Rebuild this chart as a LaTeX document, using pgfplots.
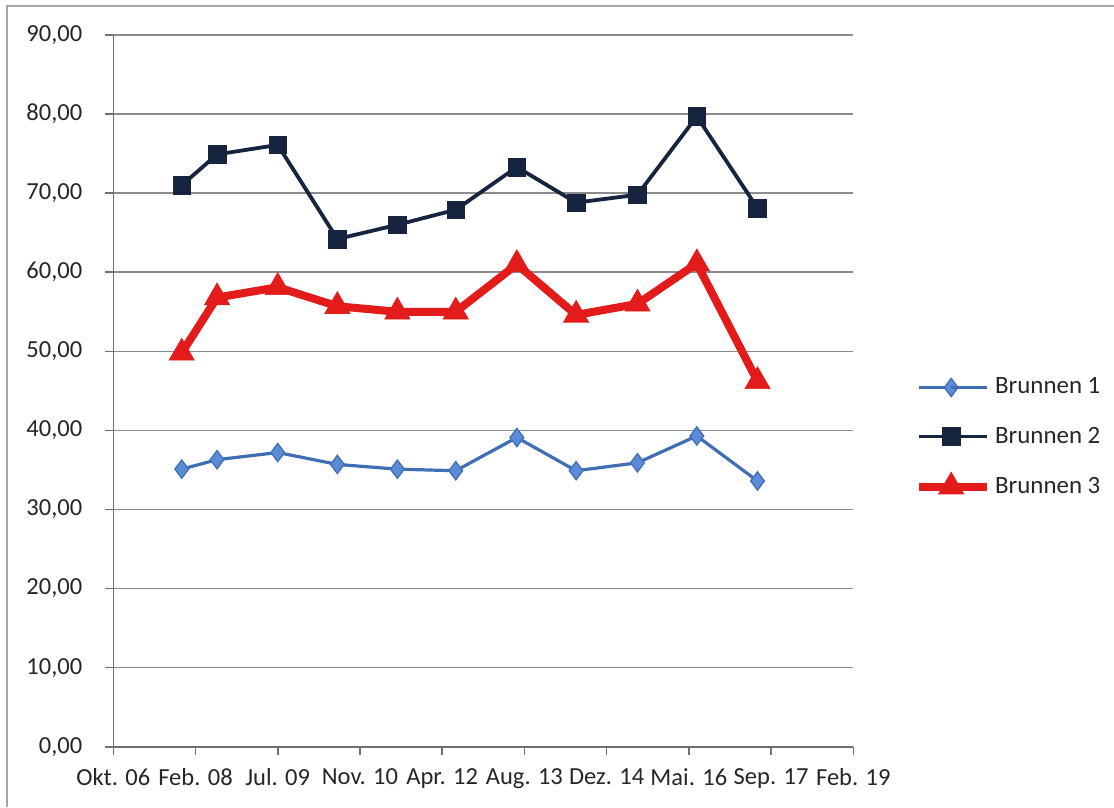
\documentclass[border=0pt]{standalone}
\usepackage{pgfplots}
\pgfplotsset{compat=1.18}
\usepackage{fontspec}
\setmainfont{Carlito}
\definecolor{b1}{HTML}{3F6EB5}
\definecolor{b1f}{HTML}{5B8BD6}
\definecolor{b2}{HTML}{16243F}
\definecolor{b3}{HTML}{E41B1B}
\definecolor{gridc}{HTML}{8C8C8C}
\definecolor{txt}{HTML}{262626}

\pgfplotstableread{
x y
0.832 35.1
1.262 36.3
2.000 37.2
2.725 35.7
3.455 35.1
4.165 34.9
4.908 39.1
5.629 34.9
6.375 35.9
7.097 39.3
7.835 33.6
}\brunnenA
\pgfplotstableread{
x y
0.832 71.0
1.262 74.9
2.000 76.1
2.725 64.2
3.455 66.0
4.165 67.9
4.908 73.3
5.629 68.8
6.375 69.8
7.097 79.7
7.835 68.1
}\brunnenB
\pgfplotstableread{
x y
0.832 49.8
1.262 56.8
2.000 58.1
2.725 55.7
3.455 55.0
4.165 55.0
4.908 61.0
5.629 54.6
6.375 56.0
7.097 61.1
7.835 46.2
}\brunnenC

\begin{document}
\begin{tikzpicture}[x=1bp,y=1bp]
\path[use as bounding box] (0,0) rectangle (557,403.5);
\draw[gray!70, line width=1.2bp] (3.5,0) -- (3.5,400.5) -- (557,400.5);
\begin{axis}[
  at={(56.65bp,30.15bp)}, anchor=origin,
  scale only axis, width=370bp, height=355.85bp,
  xmin=0, xmax=9, ymin=0, ymax=90,
  xtick={0,...,9},
  xticklabels={Okt. 06,Feb. 08,Jul. 09,Nov. 10,Apr. 12,Aug. 13,Dez. 14,Mai. 16,Sep. 17,Feb. 19},
  ytick={0,10,...,90},
  yticklabel={\pgfmathprintnumber[fixed,fixed zerofill,precision=2,use comma]{\tick}},
  /pgf/number format/assume math mode=true,
  ymajorgrids,
  major grid style={gridc, line width=0.8bp},
  axis x line*=bottom, axis y line*=left,
  axis line style={gridc!80!black, line width=0.8bp, -},
  tick style={gridc!80!black, line width=0.8bp},
  tick align=outside, major tick length=4bp,
  ticklabel style={font=\fontsize{12.3}{14}\selectfont, text=txt},
  xticklabel style={yshift=-3.5bp},
  yticklabel style={xshift=-8bp},
  clip=false,
  legend style={at={(1.075,0.435)}, anchor=west, draw=none, fill=none,
    font=\fontsize{12.5}{14}\selectfont, text=txt, row sep=11bp,
    /tikz/every even column/.append style={column sep=0pt}},
  legend cell align=left,
  legend image code/.code={
    \draw[#1] (0bp,0bp) -- (16bp,0bp);
    \draw[#1, mark repeat=1] plot coordinates {(16bp,0bp)};
    \draw[#1] (16bp,0bp) -- (34bp,0bp);
  },
]
\addplot[b1, line width=1.6bp, mark=diamond*, mark size=4.6bp,
  mark options={fill=b1f, draw=b1, line width=0.6bp}] table[x=x,y=y] {\brunnenA};
\addlegendentry{Brunnen 1}
\addplot[b2, line width=1.9bp, mark=square*, mark size=4.4bp,
  mark options={fill=b2, draw=b2, line width=0.3bp}] table[x=x,y=y] {\brunnenB};
\addlegendentry{Brunnen 2}
\addplot[b3, line width=4bp, mark=triangle*, mark size=7.3bp,
  mark options={fill=b3, draw=b3, line width=0.3bp}] table[x=x,y=y] {\brunnenC};
\addlegendentry{Brunnen 3}
\end{axis}
\end{tikzpicture}
\end{document}
